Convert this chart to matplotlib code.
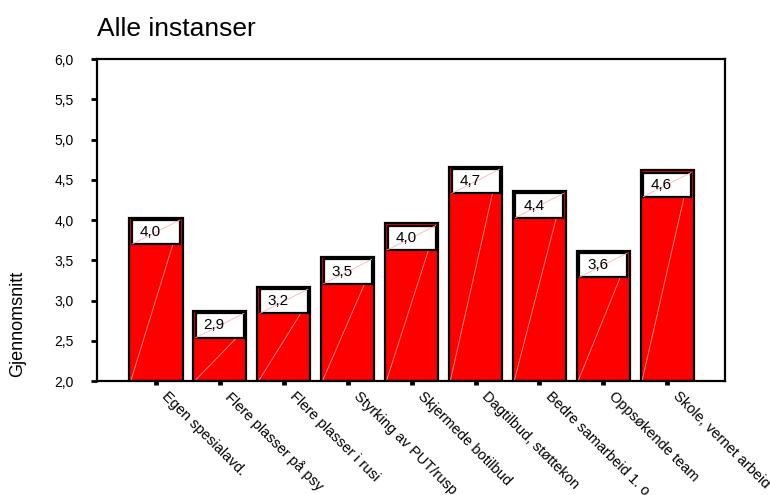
import matplotlib
matplotlib.use("Agg")
import matplotlib.pyplot as plt
import matplotlib.transforms as mtransforms
from matplotlib.patches import Rectangle

plt.rcParams['font.family'] = ['Liberation Sans', 'DejaVu Sans']

# mean score per measure
categories = ["Egen spesialavd.", "Flere plasser på psy", "Flere plasser i rusi",
              "Styrking av PUT/rusp", "Skjermede botilbud", "Dagtilbud, støttekon",
              "Bedre samarbeid 1. o", "Oppsøkende team", "Skole, vernet arbeid"]
means = [4.03, 2.87, 3.17, 3.54, 3.96, 4.66, 4.36, 3.62, 4.62]
y_ticks = [2.0, 2.5, 3.0, 3.5, 4.0, 4.5, 5.0, 5.5, 6.0]

fig = plt.figure(figsize=(7.7, 4.95), dpi=100)
ax = fig.add_axes([0.126, 0.2303, 0.8156, 0.6505])

x = list(range(len(categories)))
width = 0.83
base = 2.0
ax.bar(x, [m - base for m in means], bottom=base, width=width,
       color='#ff0000', edgecolor='black', linewidth=1.6, zorder=2)

# value boxes at the top of each bar
box_h = 0.3
for xi, m in zip(x, means):
    left = xi - width / 2 + 0.04
    w = width - 0.08
    top = m - 0.03
    ax.add_patch(Rectangle((left, top - box_h), w, box_h, facecolor='white',
                           edgecolor='black', linewidth=1.6, zorder=3))
    # faint diagonal streaks
    ax.plot([left, left + w], [top - box_h, top], color='#ffb4b4', lw=0.6, zorder=4)
    ax.plot([xi - width / 2 + 0.02, xi + width / 2 - 0.15], [base, top - box_h],
            color='#ff9a9a', lw=0.6, zorder=2.5)
    ax.text(left + 0.12, top - box_h / 2, f"{m:.1f}".replace('.', ','),
            ha='left', va='center', fontsize=11, zorder=5)

ax.set_xlim(-0.923, 8.904)
ax.set_ylim(2.0, 6.0)
ax.set_yticks(y_ticks)
ax.set_yticklabels([f"{t:.1f}".replace('.', ',') for t in y_ticks], fontsize=10)
ax.set_xticks(x)
ax.set_xticklabels([])

# slanted category names, shifted right of the tick marks
offset = mtransforms.ScaledTranslation(0.13, -0.08, fig.dpi_scale_trans)
for xi, cat in zip(x, categories):
    ax.text(xi, 0, cat, transform=ax.get_xaxis_transform() + offset,
            rotation=-45, ha='left', va='top', rotation_mode='anchor',
            fontsize=10.5, clip_on=False)

ax.tick_params(axis='y', length=4, width=2, pad=13)
ax.tick_params(axis='x', length=3, width=3.5, pad=2)
for s in ax.spines.values():
    s.set_linewidth(1.6)

fig.text(0.126, 0.927, "Alle instanser", fontsize=19, ha='left', va='baseline')
fig.text(0.023, 0.345, "Gjennomsnitt", fontsize=13, rotation=90,
         ha='center', va='center')

fig.savefig("out.png", dpi=100)
